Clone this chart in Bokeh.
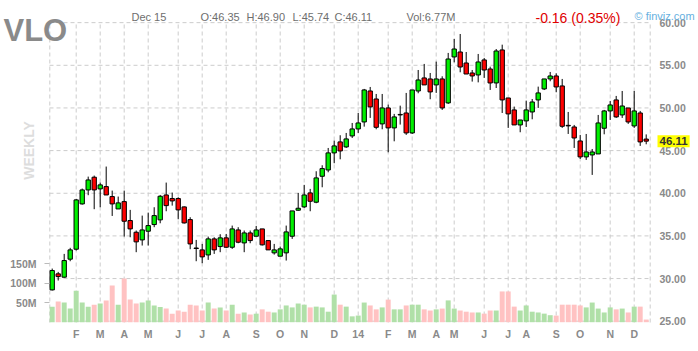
from math import pi
from bokeh.plotting import figure
from bokeh.models import Range1d, LinearAxis, FixedTicker, NumeralTickFormatter, Label, ColumnDataSource
from bokeh.embed import file_html
from bokeh.resources import INLINE

# ---------------- data (weekly bars) ----------------
symbol = "VLO"
last_date = "Dec 15"
change_text = "-0.16 (0.35%)"
volume_text = "Vol:6.77M"

opens = [28.67, 30.55, 30.16, 32.27, 33.44, 38.75, 40.39, 41.88, 40.51, 40.78,
         39.61, 38.16, 39.02, 36.80, 35.43, 34.53, 35.55, 36.33, 36.88, 39.80,
         39.38, 39.38, 38.40, 36.91, 33.58, 33.36, 32.77, 34.65, 33.75, 34.77,
         33.67, 35.70, 34.18, 35.35, 34.96, 35.82, 34.45, 33.01, 32.62, 33.01,
         34.96, 38.01, 38.40, 40.04, 38.95, 41.99, 42.73, 44.73, 46.02, 45.43,
         46.72, 47.54, 48.36, 51.99, 51.05, 48.13, 50.00, 47.66, 49.18, 49.41,
         47.07, 51.99, 53.52, 53.40, 52.70, 53.40, 50.59, 55.98, 56.56, 55.27,
         54.10, 53.87, 55.63, 54.57, 52.93, 56.80, 51.17, 49.77, 48.01, 48.48,
         49.53, 50.94, 52.23, 53.40, 53.75, 52.58, 47.96, 47.77, 46.13, 44.26,
         44.49, 44.61, 47.62, 49.65, 50.94, 49.18, 50.00, 47.89, 49.41, 46.35]
highs = [31.17, 30.78, 32.89, 33.60, 39.34, 40.55, 41.95, 42.07, 41.25, 43.13,
         40.31, 39.61, 40.31, 38.05, 35.63, 37.38, 37.73, 38.36, 39.80, 41.25,
         40.08, 39.53, 38.45, 37.19, 34.53, 34.06, 34.92, 34.84, 35.20, 35.23,
         36.21, 36.02, 35.63, 35.63, 36.17, 35.82, 34.45, 34.06, 33.75, 36.21,
         37.93, 40.04, 40.98, 40.51, 42.58, 43.28, 45.31, 46.17, 46.80, 47.07,
         48.24, 49.41, 52.23, 52.46, 51.64, 51.64, 50.39, 49.30, 50.27, 51.76,
         52.11, 54.45, 55.16, 54.10, 55.43, 53.71, 56.45, 58.09, 58.67, 56.56,
         54.45, 56.33, 55.86, 54.84, 56.91, 57.42, 51.17, 50.16, 48.59, 50.86,
         51.05, 52.50, 53.40, 54.22, 54.06, 53.40, 49.53, 48.01, 46.84, 46.95,
         45.19, 49.18, 49.77, 50.82, 51.41, 51.99, 50.00, 51.99, 49.65, 46.90]
lows = [28.60, 29.77, 30.10, 32.03, 33.28, 38.67, 39.77, 38.13, 38.36, 39.80,
        37.34, 38.16, 34.92, 34.84, 33.09, 33.87, 33.87, 36.02, 36.48, 37.89,
        38.55, 36.95, 36.45, 33.44, 32.03, 31.80, 32.19, 32.89, 33.09, 33.60,
        33.48, 34.14, 33.09, 34.14, 34.96, 33.87, 33.36, 32.81, 32.62, 32.11,
        34.65, 37.95, 38.28, 37.89, 38.83, 40.70, 42.46, 43.52, 43.98, 45.31,
        46.48, 47.07, 47.81, 48.83, 47.50, 47.50, 44.80, 46.09, 48.05, 46.84,
        46.95, 51.72, 52.70, 51.02, 51.76, 49.77, 50.47, 55.35, 54.18, 53.98,
        53.09, 53.00, 53.52, 52.11, 52.34, 49.41, 47.66, 48.00, 47.15, 47.77,
        48.67, 50.00, 52.10, 53.13, 51.84, 47.66, 46.95, 45.31, 44.02, 43.91,
        42.15, 44.60, 46.91, 48.59, 48.83, 48.83, 48.13, 47.66, 45.55, 45.74]
closes = [30.94, 30.23, 32.11, 33.36, 39.22, 40.39, 41.56, 40.39, 40.98, 39.80,
          38.75, 38.87, 36.72, 35.82, 34.30, 35.70, 36.21, 37.38, 39.65, 38.55,
          39.10, 38.05, 36.52, 34.06, 33.52, 32.54, 34.65, 33.36, 34.77, 33.67,
          35.82, 34.26, 35.35, 34.45, 35.70, 33.95, 33.36, 33.36, 33.48, 35.47,
          37.93, 38.24, 39.80, 39.06, 41.80, 42.89, 44.73, 45.55, 44.96, 46.37,
          47.54, 48.24, 52.11, 50.12, 47.73, 50.00, 47.66, 48.95, 49.24, 47.07,
          52.11, 53.28, 52.70, 51.88, 53.40, 50.00, 55.74, 56.91, 54.80, 53.98,
          53.75, 55.39, 54.45, 52.93, 56.68, 50.94, 49.30, 48.01, 48.59, 49.77,
          50.70, 51.76, 53.40, 53.75, 52.46, 47.85, 47.90, 46.48, 44.26, 44.84,
          44.84, 48.24, 49.65, 50.35, 48.95, 50.23, 48.36, 49.65, 46.02, 46.11]
volumes_m = [40, 53, 50.5, 35, 81, 50.5, 40, 45, 48, 56,
             94, 45, 112, 58, 48, 50.5, 56, 43, 39, 35,
             22, 30, 27, 45, 43, 30, 50.5, 35, 38, 30,
             45, 22, 25, 20, 22, 33, 27, 25, 33, 43,
             38, 48, 45, 38, 40, 38, 27, 71, 45, 40,
             15, 17, 50.5, 43, 33, 38, 58, 33, 33, 43,
             45, 45, 33, 30, 33, 35, 56, 35, 30, 27,
             25, 25, 22, 30, 30, 79, 79, 40, 30, 43,
             27, 25, 22, 18, 17, 45, 45, 45, 43, 38,
             50.5, 35, 25, 38, 33, 35, 25, 40, 40, 6.77]

month_ticks = [4, 8, 12, 16, 21, 25, 29, 34, 38, 42, 47, 51,
               56, 60, 64, 67, 72, 76, 79, 84, 88, 93, 97]
month_labels = ["F", "M", "A", "M", "J", "J", "A", "S", "O", "N", "D", "14",
                "F", "M", "A", "M", "J", "J", "A", "S", "O", "N", "D"]
price_ticks = [25, 30, 35, 40, 45, 50, 55, 60]
vol_ticks = [50, 100, 150]
vol_labels = ["50M", "100M", "150M"]

# ---------------- layout constants (pixels of the 698x351 canvas) ----------------
W, H = 698, 351
FL, FR, FT, FB = 49, 650, 22, 322          # plot area edges
BAR0_X, BAR_PX = 51.7, 6.0                 # centre of first bar, px per bar
P25_Y, PX_PER_USD = 320.7, 8.53            # y of $25, px per dollar
V0_Y, PX_PER_M = 321.7, 0.3893             # y of zero volume, px per million

def xd(px):  return (px - BAR0_X) / BAR_PX
def pd(py):  return 25 + (P25_Y - py) / PX_PER_USD
def vd(py):  return (V0_Y - py) / PX_PER_M

FONT = "Liberation Sans"
GRID = "#cccccc"
UP, DOWN = "#00f000", "#ff0000"
VUP, VDOWN = "#b0e0a8", "#ffc2c2"
TXT = "#8a8a8a"

idx = list(range(len(closes)))
up = [c >= o for o, c in zip(opens, closes)]
src = ColumnDataSource(dict(
    x=idx, o=opens, h=highs, l=lows, c=closes, v=volumes_m,
    top=[max(o, c) for o, c in zip(opens, closes)],
    bot=[min(o, c) for o, c in zip(opens, closes)],
    col=[UP if u else DOWN for u in up],
    vcol=[VUP if u else VDOWN for u in up],
))

p = figure(width=W, height=H, x_range=Range1d(xd(0), xd(W)),
           y_range=Range1d(pd(H), pd(0)), x_axis_type=None, y_axis_type=None,
           toolbar_location=None, output_backend="svg", title=None,
           min_border=0, outline_line_color=None,
           background_fill_color="white", border_fill_color="white")
p.extra_y_ranges = {"vol": Range1d(vd(H), vd(0))}

x_lo, x_hi, y_lo, y_hi = xd(FL), xd(FR), pd(FB), pd(FT)

# grid lines (dashed), bounded to the plot area
vx = month_ticks + [x_lo + 0.05, x_hi - 0.05]
p.segment(x0=vx, x1=vx, y0=[y_lo] * len(vx), y1=[y_hi] * len(vx),
          line_color=GRID, line_dash="4 3", line_width=1)
hy = price_ticks
p.segment(x0=[x_lo] * len(hy), x1=[x_hi] * len(hy), y0=hy, y1=hy,
          line_color=GRID, line_dash="4 3", line_width=1)

# axes placed at the plot-area edges
pa = LinearAxis(ticker=FixedTicker(ticks=price_ticks),
                formatter=NumeralTickFormatter(format="0.00"), fixed_location=x_hi)
p.add_layout(pa, "right")
va = LinearAxis(y_range_name="vol", ticker=FixedTicker(ticks=vol_ticks), fixed_location=x_lo,
                major_label_overrides={t: s for t, s in zip(vol_ticks, vol_labels)})
p.add_layout(va, "left")
xa = LinearAxis(ticker=FixedTicker(ticks=month_ticks), fixed_location=y_lo,
                major_label_overrides={t: s for t, s in zip(month_ticks, month_labels)})
p.add_layout(xa, "below")

for ax in (pa, va, xa):
    ax.axis_line_color = None
    ax.minor_tick_line_color = None
    ax.major_tick_in = 0
    ax.major_label_text_font = FONT
    ax.major_label_text_font_size = "10.5px"
    ax.major_label_text_font_style = "bold"
    ax.major_label_text_color = TXT
for ax in (pa, xa):
    ax.major_tick_out = 0
    ax.major_tick_line_color = None
pa.major_label_standoff = 9
xa.major_label_standoff = 5
va.major_tick_out = 5
va.major_tick_line_color = "#bbbbbb"
va.major_label_standoff = 8

# volume bars
p.vbar(x="x", width=0.83, top="v", bottom=0, source=src, y_range_name="vol",
       fill_color="vcol", line_color=None)
# candles
p.segment(x0="x", y0="l", x1="x", y1="h", source=src, line_color="black", line_width=1)
p.vbar(x="x", width=0.72, top="top", bottom="bot", source=src,
       fill_color="col", line_color="black", line_width=1)

# ---------------- texts (screen units, canvas pixels, y measured from the top) ----------------
def lab(text, cx, cy, size, color, style="normal", align="left", base="alphabetic", angle=0):
    p.add_layout(Label(x=cx, y=H - cy, x_units="screen", y_units="screen",
                       text=text, text_font=FONT, text_font_size=size,
                       text_color=color, text_font_style=style, text_align=align,
                       text_baseline=base, angle=angle))

lab(symbol, 3, 30, "31px", "#8a8a8a", "bold")
lab(last_date, 131, 16.5, "11px", "#6e6e6e")
ohlc = [("O", opens[-1]), ("H", highs[-1]), ("L", lows[-1]), ("C", closes[-1])]
for (k, v), xx in zip(ohlc, [200, 246, 292, 334]):
    lab(f"{k}:{v:.2f}", xx, 16.5, "11px", "#6e6e6e")
lab(volume_text, 406, 16.5, "11px", "#6e6e6e")
lab(change_text, 535, 17.5, "14px", "#e00000")
lab("\u00a9 finviz.com", 634, 15, "11px", "#66b0e0")
lab("WEEKLY", 28.5, 150, "14px", "#dddddd", "bold", "center", "middle", pi / 2)

# last price marker
p.add_layout(Label(x=657, y=closes[-1], x_units="screen", y_units="data",
                   text=f"{closes[-1]:.2f}", text_font=FONT, text_font_size="11.5px",
                   text_font_style="bold", text_color="#333333", text_baseline="middle",
                   background_fill_color="#ffff00", padding=2))

open("out.html", "w").write(file_html(p, INLINE))
